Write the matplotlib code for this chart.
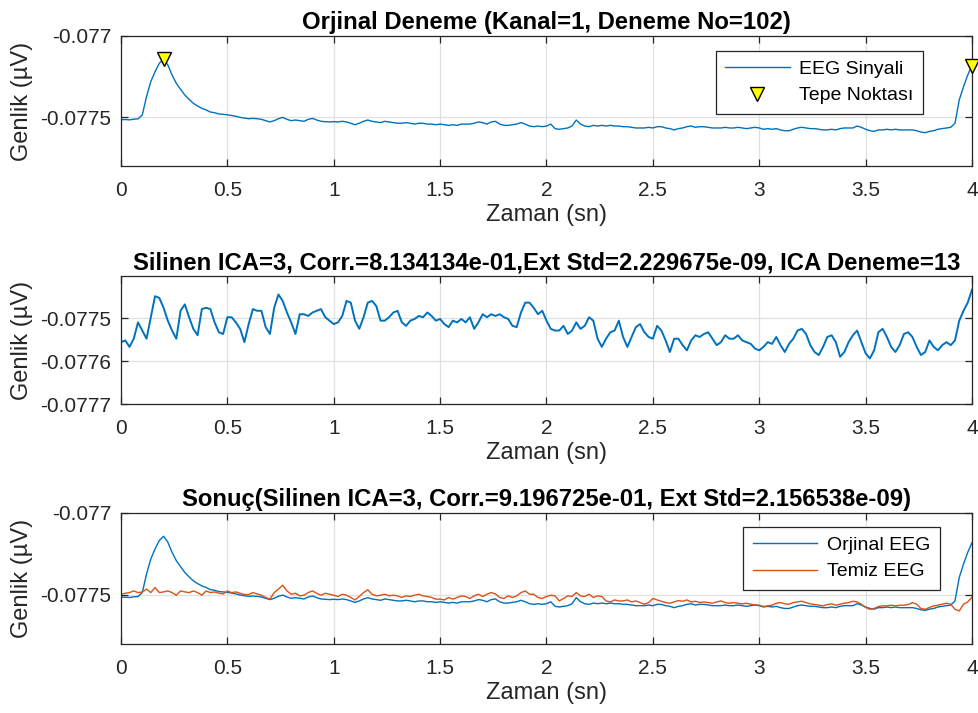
import numpy as np
import matplotlib
matplotlib.use("Agg")
import matplotlib.pyplot as plt
from matplotlib.ticker import FuncFormatter

plt.rcParams['font.family'] = ['Liberation Sans', 'DejaVu Sans']

# ---------------- data ----------------
orjinal_eeg = [
    -0.077515, -0.077514, -0.077516, -0.077512, -0.077510, -0.077486, -0.077373, -0.077281, -0.077220, -0.077168,
    -0.077142, -0.077178, -0.077240, -0.077291, -0.077328, -0.077363, -0.077390, -0.077414, -0.077431, -0.077445,
    -0.077455, -0.077468, -0.077472, -0.077480, -0.077482, -0.077485, -0.077489, -0.077494, -0.077501, -0.077505,
    -0.077509, -0.077507, -0.077509, -0.077513, -0.077521, -0.077529, -0.077521, -0.077509, -0.077501, -0.077513,
    -0.077521, -0.077517, -0.077521, -0.077525, -0.077513, -0.077507, -0.077517, -0.077525, -0.077527, -0.077529,
    -0.077527, -0.077529, -0.077525, -0.077529, -0.077537, -0.077546, -0.077537, -0.077525, -0.077517, -0.077525,
    -0.077529, -0.077533, -0.077525, -0.077529, -0.077533, -0.077537, -0.077537, -0.077533, -0.077537, -0.077542,
    -0.077537, -0.077537, -0.077542, -0.077542, -0.077546, -0.077542, -0.077546, -0.077550, -0.077546, -0.077550,
    -0.077542, -0.077542, -0.077542, -0.077537, -0.077529, -0.077533, -0.077542, -0.077529, -0.077525, -0.077542,
    -0.077550, -0.077550, -0.077546, -0.077542, -0.077533, -0.077542, -0.077554, -0.077558, -0.077554, -0.077558,
    -0.077554, -0.077542, -0.077570, -0.077574, -0.077570, -0.077566, -0.077554, -0.077517, -0.077542, -0.077554,
    -0.077558, -0.077550, -0.077554, -0.077550, -0.077554, -0.077550, -0.077554, -0.077554, -0.077558, -0.077558,
    -0.077562, -0.077566, -0.077566, -0.077566, -0.077562, -0.077566, -0.077558, -0.077558, -0.077566, -0.077570,
    -0.077578, -0.077570, -0.077566, -0.077558, -0.077554, -0.077562, -0.077558, -0.077558, -0.077562, -0.077566,
    -0.077566, -0.077566, -0.077562, -0.077566, -0.077566, -0.077562, -0.077566, -0.077570, -0.077566, -0.077562,
    -0.077566, -0.077574, -0.077570, -0.077574, -0.077570, -0.077578, -0.077583, -0.077583, -0.077574, -0.077566,
    -0.077562, -0.077566, -0.077570, -0.077570, -0.077574, -0.077578, -0.077578, -0.077574, -0.077578, -0.077570,
    -0.077566, -0.077566, -0.077566, -0.077554, -0.077562, -0.077574, -0.077583, -0.077587, -0.077578, -0.077578,
    -0.077574, -0.077578, -0.077574, -0.077578, -0.077578, -0.077578, -0.077578, -0.077583, -0.077591, -0.077595,
    -0.077587, -0.077583, -0.077574, -0.077570, -0.077566, -0.077562, -0.077537, -0.077394, -0.077312, -0.077240,
    -0.077182,
]

ica_bileseni = [
    -0.077556, -0.077552, -0.077567, -0.077548, -0.077510, -0.077529, -0.077548, -0.077498, -0.077449, -0.077453,
    -0.077476, -0.077506, -0.077529, -0.077548, -0.077483, -0.077468, -0.077498, -0.077525, -0.077540, -0.077479,
    -0.077476, -0.077479, -0.077510, -0.077533, -0.077537, -0.077498, -0.077498, -0.077510, -0.077525, -0.077556,
    -0.077514, -0.077479, -0.077483, -0.077483, -0.077521, -0.077537, -0.077476, -0.077445, -0.077460, -0.077487,
    -0.077510, -0.077537, -0.077491, -0.077491, -0.077495, -0.077487, -0.077483, -0.077479, -0.077498, -0.077506,
    -0.077514, -0.077510, -0.077495, -0.077460, -0.077464, -0.077506, -0.077525, -0.077498, -0.077464, -0.077460,
    -0.077472, -0.077506, -0.077506, -0.077498, -0.077487, -0.077483, -0.077510, -0.077518, -0.077506, -0.077502,
    -0.077495, -0.077498, -0.077487, -0.077495, -0.077506, -0.077502, -0.077514, -0.077521, -0.077506, -0.077510,
    -0.077502, -0.077510, -0.077498, -0.077525, -0.077510, -0.077491, -0.077498, -0.077491, -0.077495, -0.077491,
    -0.077498, -0.077502, -0.077518, -0.077521, -0.077487, -0.077464, -0.077464, -0.077476, -0.077491, -0.077483,
    -0.077506, -0.077525, -0.077529, -0.077529, -0.077518, -0.077537, -0.077529, -0.077510, -0.077525, -0.077518,
    -0.077498, -0.077506, -0.077548, -0.077567, -0.077548, -0.077533, -0.077529, -0.077506, -0.077544, -0.077567,
    -0.077544, -0.077521, -0.077514, -0.077533, -0.077544, -0.077548, -0.077518, -0.077529, -0.077552, -0.077579,
    -0.077548, -0.077548, -0.077563, -0.077575, -0.077552, -0.077540, -0.077544, -0.077537, -0.077533, -0.077548,
    -0.077563, -0.077556, -0.077540, -0.077548, -0.077548, -0.077540, -0.077552, -0.077556, -0.077560, -0.077571,
    -0.077575, -0.077567, -0.077556, -0.077560, -0.077544, -0.077563, -0.077579, -0.077560, -0.077548, -0.077529,
    -0.077525, -0.077537, -0.077563, -0.077579, -0.077586, -0.077567, -0.077544, -0.077540, -0.077556, -0.077590,
    -0.077579, -0.077556, -0.077540, -0.077529, -0.077556, -0.077582, -0.077594, -0.077575, -0.077533, -0.077525,
    -0.077544, -0.077567, -0.077579, -0.077563, -0.077537, -0.077533, -0.077544, -0.077567, -0.077586, -0.077579,
    -0.077552, -0.077567, -0.077575, -0.077563, -0.077556, -0.077563, -0.077552, -0.077506, -0.077483, -0.077464,
    -0.077434,
]

temiz_eeg = [
    -0.077496, -0.077490, -0.077486, -0.077476, -0.077486, -0.077482, -0.077465, -0.077486, -0.077455, -0.077486,
    -0.077482, -0.077476, -0.077486, -0.077502, -0.077476, -0.077482, -0.077486, -0.077476, -0.077486, -0.077502,
    -0.077476, -0.077486, -0.077482, -0.077490, -0.077494, -0.077476, -0.077486, -0.077482, -0.077490, -0.077498,
    -0.077498, -0.077486, -0.077494, -0.077502, -0.077516, -0.077526, -0.077486, -0.077465, -0.077441, -0.077476,
    -0.077496, -0.077490, -0.077506, -0.077502, -0.077486, -0.077476, -0.077490, -0.077502, -0.077490, -0.077496,
    -0.077502, -0.077510, -0.077496, -0.077502, -0.077516, -0.077531, -0.077510, -0.077486, -0.077469, -0.077496,
    -0.077506, -0.077502, -0.077496, -0.077506, -0.077502, -0.077506, -0.077516, -0.077506, -0.077510, -0.077502,
    -0.077496, -0.077506, -0.077510, -0.077516, -0.077526, -0.077526, -0.077531, -0.077516, -0.077526, -0.077516,
    -0.077506, -0.077510, -0.077522, -0.077506, -0.077496, -0.077510, -0.077496, -0.077486, -0.077494, -0.077516,
    -0.077522, -0.077506, -0.077516, -0.077506, -0.077486, -0.077476, -0.077496, -0.077496, -0.077516, -0.077522,
    -0.077510, -0.077502, -0.077506, -0.077537, -0.077522, -0.077506, -0.077510, -0.077486, -0.077506, -0.077510,
    -0.077496, -0.077516, -0.077506, -0.077510, -0.077537, -0.077543, -0.077531, -0.077537, -0.077537, -0.077531,
    -0.077543, -0.077537, -0.077547, -0.077557, -0.077547, -0.077522, -0.077531, -0.077539, -0.077547, -0.077551,
    -0.077543, -0.077535, -0.077539, -0.077531, -0.077543, -0.077539, -0.077547, -0.077543, -0.077547, -0.077551,
    -0.077543, -0.077537, -0.077547, -0.077551, -0.077547, -0.077551, -0.077555, -0.077551, -0.077557, -0.077561,
    -0.077563, -0.077571, -0.077567, -0.077563, -0.077551, -0.077547, -0.077555, -0.077557, -0.077547, -0.077543,
    -0.077539, -0.077547, -0.077555, -0.077559, -0.077563, -0.077567, -0.077559, -0.077555, -0.077563, -0.077557,
    -0.077551, -0.077547, -0.077539, -0.077543, -0.077557, -0.077577, -0.077588, -0.077583, -0.077571, -0.077567,
    -0.077567, -0.077563, -0.077567, -0.077563, -0.077563, -0.077559, -0.077547, -0.077557, -0.077583, -0.077588,
    -0.077577, -0.077567, -0.077563, -0.077557, -0.077551, -0.077557, -0.077588, -0.077598, -0.077557, -0.077543,
    -0.077515,
]

sure_baslangic, sure_bitis = 0.0, 4.0
tepe_zaman = [0.2, 4.0]
tepe_deger = [-0.077142, -0.077182]

x_ticks = [0, 0.5, 1, 1.5, 2, 2.5, 3, 3.5, 4]
y_ticks_ust = [-0.0775, -0.077]
y_ticks_orta = [-0.0777, -0.0776, -0.0775]
y_ticks_alt = [-0.0775, -0.077]

basliklar = [
    "Orjinal Deneme (Kanal=1, Deneme No=102)",
    "Silinen ICA=3, Corr.=8.134134e-01,Ext Std=2.229675e-09, ICA Deneme=13",
    "Sonuç(Silinen ICA=3, Corr.=9.196725e-01, Ext Std=2.156538e-09)",
]

t_orj = np.linspace(sure_baslangic, sure_bitis, len(orjinal_eeg))
t_ica = np.linspace(sure_baslangic, sure_bitis, len(ica_bileseni))
t_tem = np.linspace(sure_baslangic, sure_bitis, len(temiz_eeg))

# ---------------- styling ----------------
BLUE = '#0072BD'
ORANGE = '#D95319'
DARK = '#262626'

W, H = 979, 713
fig = plt.figure(figsize=(W / 100, H / 100), dpi=100)

def px_axes(x0, y0, x1, y1):
    return fig.add_axes([x0 / W, 1 - y1 / H, (x1 - x0) / W, (y1 - y0) / H])

ax1 = px_axes(121, 36, 972, 166)
ax2 = px_axes(121, 276, 972, 404)
ax3 = px_axes(121, 513, 972, 644)

fmt = FuncFormatter(lambda v, p: ('%g' % v))

def style(ax, yticks, ylim, title):
    ax.set_xlim(sure_baslangic, sure_bitis)
    ax.set_ylim(*ylim)
    ax.set_xticks(x_ticks)
    ax.set_yticks(yticks)
    ax.xaxis.set_major_formatter(fmt)
    ax.yaxis.set_major_formatter(fmt)
    ax.tick_params(direction='in', length=5, width=0.9, top=True, right=True,
                   labelsize=15, colors=DARK)
    ax.tick_params(axis='x', pad=11)
    ax.tick_params(axis='y', pad=7)
    ax.grid(True, color='#e0e0e0', linewidth=0.9)
    ax.set_axisbelow(True)
    for s in ax.spines.values():
        s.set_color(DARK)
        s.set_linewidth(0.9)
    ax.set_xlabel('Zaman (sn)', fontsize=17, color=DARK, labelpad=3)
    ax.set_ylabel('Genlik (µV)', fontsize=17, color=DARK, labelpad=5)
    ax.set_title(title, fontsize=17.2, fontweight='bold', color='black', pad=5)

leg_kw = dict(loc='upper right', fontsize=14, frameon=True, fancybox=False,
              framealpha=1, edgecolor=DARK, borderaxespad=0, handlelength=3.3,
              handletextpad=0.5, labelspacing=0.45, borderpad=0.5)

# top
ax1.plot(t_orj, orjinal_eeg, color=BLUE, linewidth=1.0, label='EEG Sinyali')
ax1.plot(tepe_zaman, tepe_deger, linestyle='none', marker='v', markersize=10,
         markerfacecolor='#FFFF00', markeredgecolor='black', markeredgewidth=1.0,
         clip_on=False, label='Tepe Noktası', zorder=5)
style(ax1, y_ticks_ust, (-0.0778, -0.077), basliklar[0])
leg1 = ax1.legend(bbox_to_anchor=(0.9428, 0.887), **leg_kw)
leg1.get_frame().set_linewidth(0.9)

# middle
ax2.plot(t_ica, ica_bileseni, color=BLUE, linewidth=1.4)
style(ax2, y_ticks_orta, (-0.0777, -0.077402), basliklar[1])

# bottom
ax3.plot(t_orj, orjinal_eeg, color=BLUE, linewidth=1.0, label='Orjinal EEG')
ax3.plot(t_tem, temiz_eeg, color=ORANGE, linewidth=1.0, label='Temiz EEG')
style(ax3, y_ticks_alt, (-0.0778, -0.077), basliklar[2])
leg3 = ax3.legend(bbox_to_anchor=(0.9624, 0.8954), **leg_kw)
leg3.get_frame().set_linewidth(0.9)

fig.savefig('out.png', dpi=100, facecolor='white')
